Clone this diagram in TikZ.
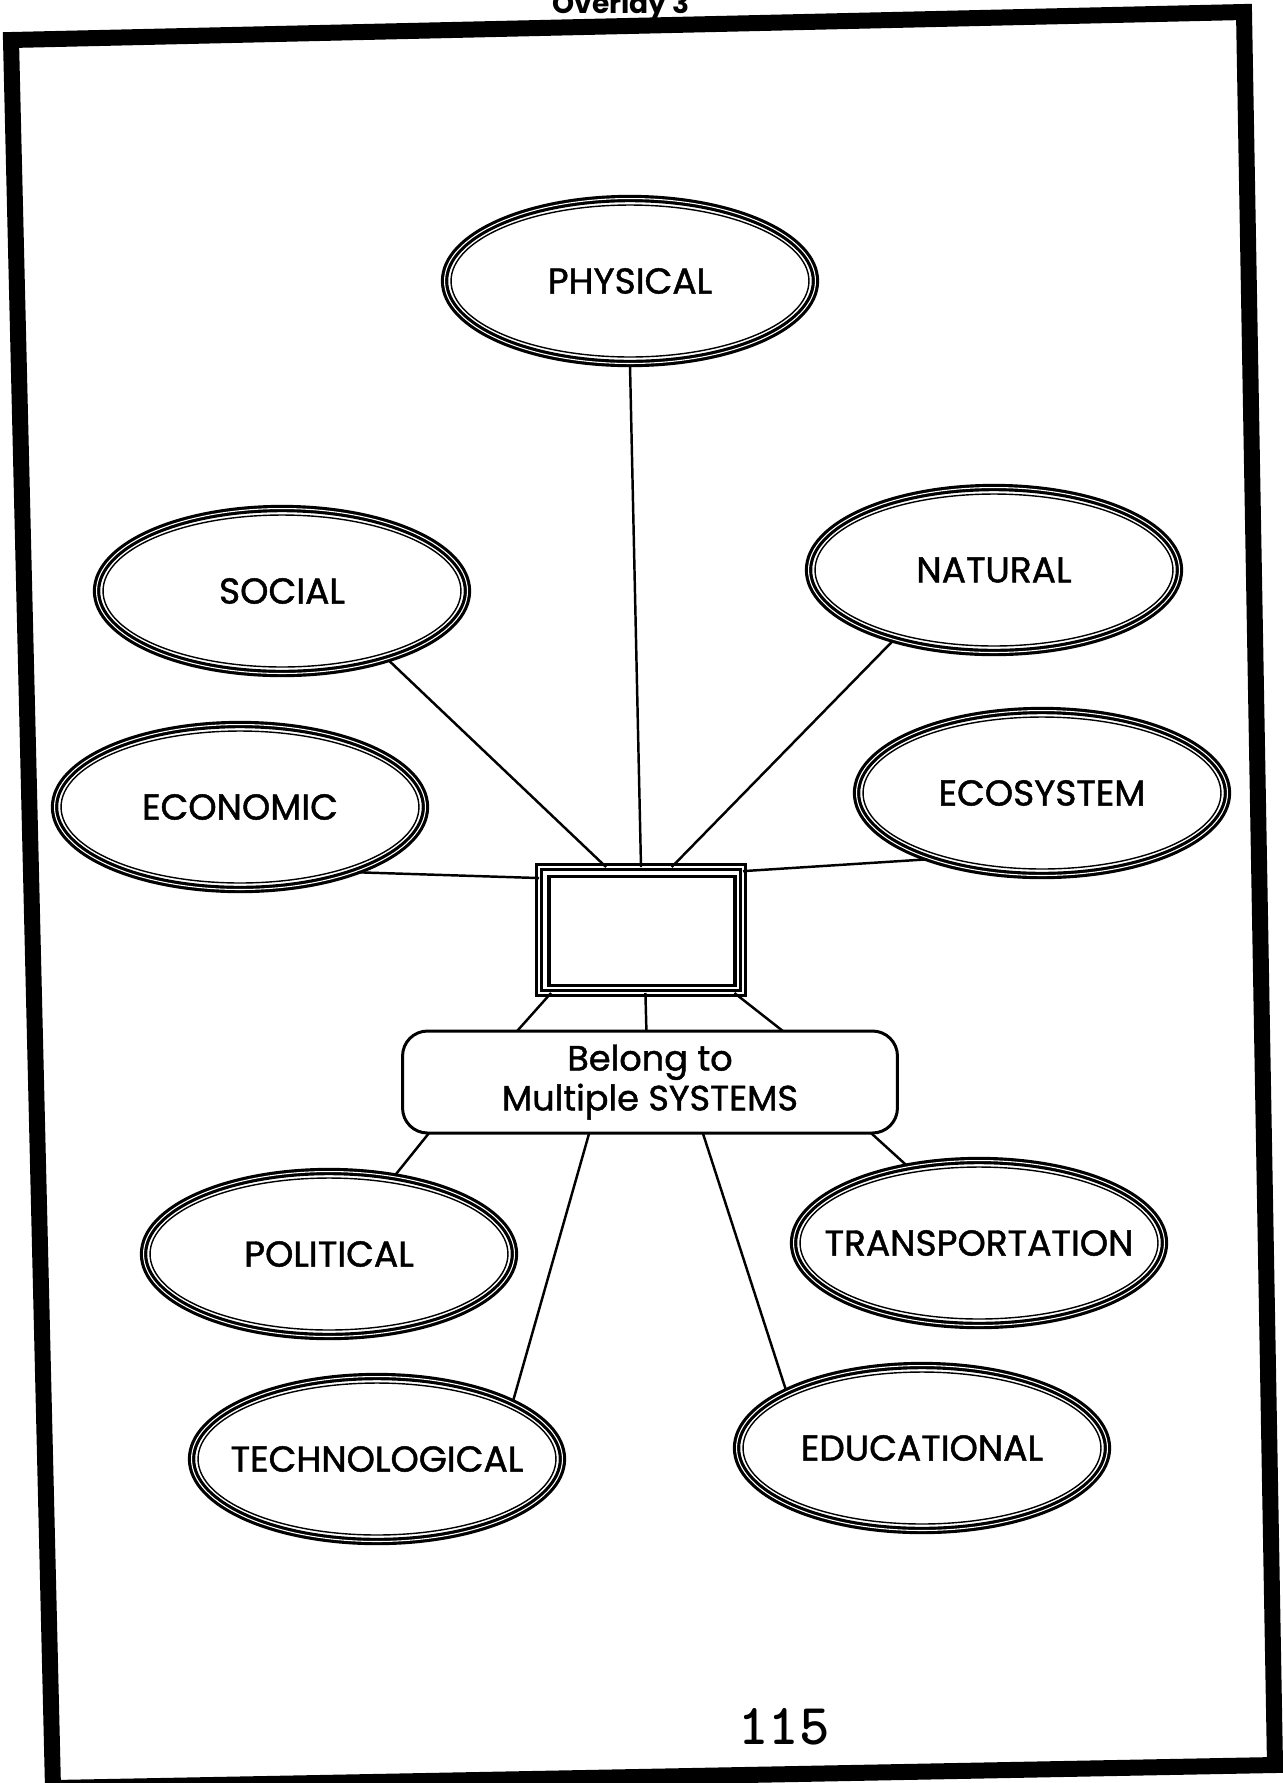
\documentclass[tikz,border=0pt]{standalone}
\usepackage{fontspec}
\setmainfont{Poppins}
\newfontfamily\sysfont{Poppins}[FakeBold=1.3]
\usetikzlibrary{shapes.geometric, positioning}
\tikzset{
    sysring/.style={ellipse, draw, line width=1.8pt, double, double distance=0.6pt, inner ysep=0pt, inner xsep=-1.5cm,
        minimum width=7.42cm, minimum height=3.3cm, font=\sysfont\fontsize{20.5}{23}\selectfont,
        path picture={\draw[line width=0.8pt] (path picture bounding box.center) ellipse [x radius=3.58cm, y radius=1.52cm];}}, % the triple ovals
    link/.style={line width=1.4pt}, % the plain connectors
}

\begin{document}
\begin{tikzpicture}[
        x=0.02cm, y=-0.02cm,
        frameline/.style={line width=0.32cm, line join=miter},
    ]
    \useasboundingbox (0,0) rectangle (1283,1783);
    % page frame, a little skewed as in the scan
    \draw[frameline] (11,40) -- (1244,12) -- (1275,1765) -- (53,1788) -- cycle;
    \node[anchor=base, font=\bfseries\fontsize{16}{18}\selectfont] (title) at (621,13) {Overlay 3};

    % the centre
    \node[draw, double, line width=1.8pt, double distance=0.7pt, outer sep=0pt, minimum width=4.08cm, minimum height=2.52cm] (sysbox) at (641,930) {};
    \node[draw, line width=1.8pt, minimum width=3.72cm, minimum height=2.18cm] (sysinner) at (642,931) {};
    \node[draw, line width=1.7pt, rounded corners=0.5cm, outer sep=0pt, minimum width=9.9cm, minimum height=2.04cm, align=center, font=\sysfont\fontsize{20}{22.7}\selectfont] (belong) at (650,1082) {Belong to\\Multiple SYSTEMS};

    % the systems
    \node[sysring] (physical) at (630,281) {PHYSICAL};
    \node[sysring] (social) at (282,591) {SOCIAL};
    \node[sysring] (natural) at (994,570) {NATURAL};
    \node[sysring] (economic) at (240,807) {ECONOMIC};
    \node[sysring] (ecosystem) at (1042,793) {ECOSYSTEM};
    \node[sysring] (political) at (329,1254) {POLITICAL};
    \node[sysring] (transport) at (979,1243) {TRANSPORTATION};
    \node[sysring] (technological) at (377,1459) {TECHNOLOGICAL};
    \node[sysring] (educational) at (922,1448) {EDUCATIONAL};

    \node[font=\ttfamily\bfseries\fontsize{33}{36}\selectfont] (pageno) at (784,1727) {115};

    \draw[link]
    (physical.south) edge (sysbox.north)
    (social.-33) edge (sysbox.119)
    (natural.215) edge (sysbox.64)
    (economic.-29) edge (sysbox.153)
    (ecosystem.210) edge (sysbox.30)
    (sysbox.215) edge (belong.159)
    (sysbox.274) edge (belong.94)
    (sysbox.326) edge (belong.21)
    (belong.193) edge (political.50)
    (belong.220) edge (technological.23)
    (belong.316) edge (educational.157)
    (belong.347) edge (transport.133);
\end{tikzpicture}
\end{document}
